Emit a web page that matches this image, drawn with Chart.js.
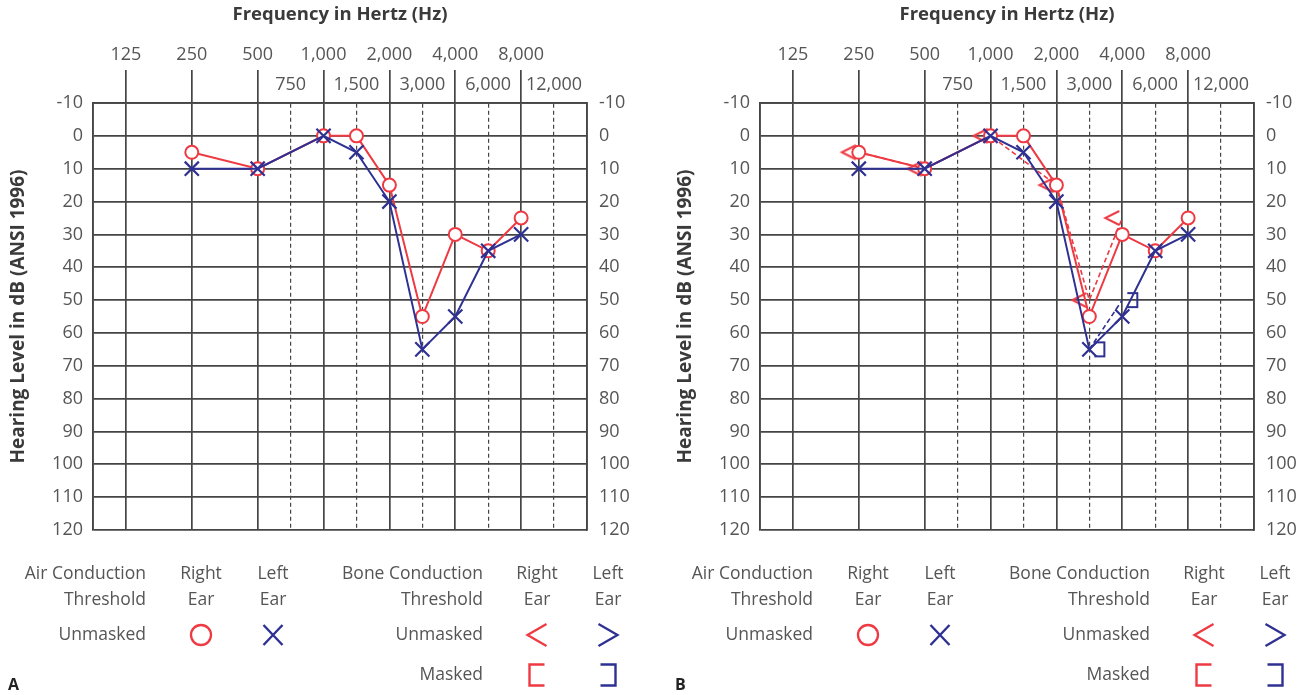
<!DOCTYPE html>
<html lang="en">

<head>
    <meta charset="UTF-8">
    <title>Audiograms A and B</title>
    <style>
        body { margin: 0; background: #fff; width: 1300px; height: 695px; overflow: hidden; position: relative; }
        .panel { position: absolute; top: 0; width: 633px; height: 695px; }
        #panel-a { left: 0; }
        #panel-b { left: 667px; }
    </style>
</head>

<body>
    <div class="panel" id="panel-a"><canvas id="chart-a" width="633" height="695"></canvas></div>
    <div class="panel" id="panel-b"><canvas id="chart-b" width="633" height="695"></canvas></div>

    <script src="https://cdn.jsdelivr.net/npm/chart.js"></script>
    <script>
        // audiogram columns, '' = empty slot / frame edge
        const columns = ['', '125', '', '250', '', '500', '750', '1,000', '1,500', '2,000', '3,000', '4,000', '6,000', '8,000', '12,000', ''];
        const halfOctaves = ['750', '1,500', '3,000', '6,000', '12,000'];

        // air conduction, both panels
        const airFreqs = ['250', '500', '1,000', '1,500', '2,000', '3,000', '4,000', '6,000', '8,000'];
        const rightAir = [5, 10, 0, 0, 15, 55, 30, 35, 25];
        const leftAir = [10, 10, 0, 5, 20, 65, 55, 35, 30];

        // bone conduction, panel B only
        const rightBoneFreqs = ['250', '500', '1,000', '2,000', '3,000', '4,000'];
        const rightBone = [5, 10, 0, 15, 50, 25];
        const leftBoneMaskedFreqs = ['3,000', '4,000'];
        const leftBoneMasked = [65, 50];

        const RED = '#ee3a43';
        const BLUE = '#2e3192';
        const GRID = '#454545';
        const TEXT = '#555555';
        const TITLE = '#3a3a3a';
        const FONT = '"Open Sans", "Noto Sans", sans-serif';

        Chart.defaults.font.family = FONT;

        function points(freqs, levels) {
            return freqs.map((f, i) => ({ x: f, y: levels[i] }));
        }

        function drawGlyph(g, kind, x, y, w, h, color, lw) {
            const l = x - w / 2, r = x + w / 2, t = y - h / 2, b = y + h / 2;
            g.save();
            g.strokeStyle = color;
            g.lineWidth = lw;
            g.beginPath();
            if (kind === 'o') g.arc(x, y, w / 2, 0, Math.PI * 2);
            if (kind === 'x') { g.moveTo(l, t); g.lineTo(r, b); g.moveTo(r, t); g.lineTo(l, b); }
            if (kind === '<') { g.moveTo(r, t); g.lineTo(l, y); g.lineTo(r, b); }
            if (kind === '>') { g.moveTo(l, t); g.lineTo(r, y); g.lineTo(l, b); }
            if (kind === '[') { g.moveTo(r, t); g.lineTo(l, t); g.lineTo(l, b); g.lineTo(r, b); }
            if (kind === ']') { g.moveTo(l, t); g.lineTo(r, t); g.lineTo(r, b); g.lineTo(l, b); }
            g.stroke();
            g.restore();
        }

        // bone markers sit beside the frequency line, not on it
        function markerImage(kind, color) {
            const c = document.createElement('canvas');
            c.width = 48;
            c.height = 24;
            const g = c.getContext('2d');
            if (kind === '<') drawGlyph(g, '<', 14, 12, 14, 14, color, 2);
            else drawGlyph(g, ']', 34, 12, 10, 14, color, 2);
            return c;
        }

        const legendPlugin = {
            id: 'audioLegend',
            afterDraw(chart, args, opts) {
                const g = chart.ctx;
                const c = opts.cols;
                const rows = [574, 600, 635, 675];
                const put = (s, x, y, align) => { g.textAlign = align; g.fillText(s, x, y); };
                g.save();
                g.font = '17.5px ' + FONT;
                g.fillStyle = TEXT;
                g.textBaseline = 'middle';
                put('Air Conduction', c[0], rows[0], 'right');
                put('Threshold', c[0], rows[1], 'right');
                put('Unmasked', c[0], rows[2], 'right');
                put('Right', c[1], rows[0], 'center');
                put('Ear', c[1], rows[1], 'center');
                put('Left', c[2], rows[0], 'center');
                put('Ear', c[2], rows[1], 'center');
                put('Bone Conduction', c[3], rows[0], 'right');
                put('Threshold', c[3], rows[1], 'right');
                put('Unmasked', c[3], rows[2], 'right');
                put('Masked', c[3], rows[3], 'right');
                put('Right', c[4], rows[0], 'center');
                put('Ear', c[4], rows[1], 'center');
                put('Left', c[5], rows[0], 'center');
                put('Ear', c[5], rows[1], 'center');
                drawGlyph(g, 'o', c[1], rows[2], 20, 20, RED, 2.3);
                drawGlyph(g, 'x', c[2], rows[2], 19, 20, BLUE, 2.4);
                drawGlyph(g, '<', c[4], rows[2], 19, 22, RED, 2.3);
                drawGlyph(g, '>', c[5], rows[2], 19, 22, BLUE, 2.3);
                drawGlyph(g, '[', c[4], rows[3], 15, 21, RED, 2.4);
                drawGlyph(g, ']', c[5], rows[3], 15, 21, BLUE, 2.4);
                g.font = 'bold 16px ' + FONT;
                g.fillStyle = '#222';
                g.textAlign = 'left';
                g.fillText(opts.letter, 8, 685);
                g.restore();
            }
        };

        const isMinor = i => halfOctaves.includes(columns[i]);
        const isMajor = i => columns[i] !== '' && !isMinor(i);
        const isEmptySlot = i => columns[i] === '' && i !== 0 && i !== columns.length - 1;

        function makeAudiogram(canvasId, letter, withBone) {
            const datasets = [{
                label: 'Left ear air',
                data: points(airFreqs, leftAir),
                order: 1,
                borderColor: BLUE,
                borderWidth: 2,
                pointStyle: 'crossRot',
                pointRadius: 10,
                pointBorderWidth: 2.2,
                pointBorderColor: BLUE,
                pointBackgroundColor: BLUE
            }, {
                label: 'Right ear air',
                data: points(airFreqs, rightAir),
                order: 2,
                borderColor: RED,
                borderWidth: 2,
                pointStyle: 'circle',
                pointRadius: 6.5,
                pointBorderWidth: 2,
                pointBorderColor: RED,
                pointBackgroundColor: '#fff'
            }];

            if (withBone) {
                datasets.push({
                    label: 'Right ear bone',
                    data: points(rightBoneFreqs, rightBone),
                    order: 3,
                    borderColor: RED,
                    borderWidth: 1.6,
                    borderDash: [5, 3],
                    pointStyle: markerImage('<', RED),
                    pointRadius: 5
                });
                datasets.push({
                    label: 'Left ear bone masked',
                    data: points(leftBoneMaskedFreqs, leftBoneMasked),
                    order: 0,
                    borderColor: BLUE,
                    borderWidth: 1.6,
                    borderDash: [5, 3],
                    pointStyle: markerImage(']', BLUE),
                    pointRadius: 5
                });
            }

            const yTicks = { stepSize: 10, color: TEXT, font: { size: 18 } };

            return new Chart(document.getElementById(canvasId), {
                type: 'line',
                data: { datasets: datasets },
                options: {
                    responsive: false,
                    animation: false,
                    events: [],
                    layout: { padding: { left: 0, right: 0, top: 0, bottom: 165 } },
                    elements: { line: { tension: 0 } },
                    plugins: {
                        legend: { display: false },
                        tooltip: { enabled: false },
                        audioLegend: { letter: letter, cols: [146, 201, 273, 483, 537, 608] }
                    },
                    scales: {
                        x: {
                            type: 'category',
                            labels: columns,
                            position: 'top',
                            offset: false,
                            grid: {
                                color: c => isEmptySlot(c.index) ? 'transparent' : GRID,
                                lineWidth: c => isMinor(c.index) ? 1.2 : 1.7,
                                tickLength: 33,
                                tickWidth: 1.7,
                                tickColor: c => isMajor(c.index) ? GRID : 'transparent'
                            },
                            // in v4 the grid line dash is read from border.dash per tick
                            border: {
                                color: GRID,
                                width: 1.7,
                                dash: c => isMinor(c.index) ? [4, 3] : []
                            },
                            ticks: {
                                autoSkip: false,
                                maxRotation: 0,
                                padding: -30,
                                color: TEXT,
                                font: { size: 18, lineHeight: '30px' },
                                callback: (value, index) => isMinor(index) ? ['', columns[index]] : [columns[index], '']
                            },
                            title: {
                                display: true,
                                text: 'Frequency in Hertz (Hz)',
                                color: TITLE,
                                font: { size: 18.5, weight: 'bold' },
                                padding: { top: 4, bottom: 0 }
                            },
                            afterFit: s => { s.height = 103; }
                        },
                        y: {
                            position: 'left',
                            reverse: true,
                            min: -10,
                            max: 120,
                            ticks: Object.assign({ padding: 10 }, yTicks),
                            grid: { color: GRID, lineWidth: 1.7, drawTicks: false },
                            border: { color: GRID, width: 1.7 },
                            title: {
                                display: true,
                                text: 'Hearing Level in dB (ANSI 1996)',
                                color: TITLE,
                                font: { size: 19, weight: 'bold' },
                                padding: { top: 7, bottom: 0 }
                            },
                            afterFit: s => { s.width = 93; }
                        },
                        y2: {
                            position: 'right',
                            reverse: true,
                            min: -10,
                            max: 120,
                            ticks: Object.assign({ padding: 12 }, yTicks),
                            grid: { drawOnChartArea: false, drawTicks: false },
                            border: { color: GRID, width: 1.7 },
                            afterFit: s => { s.width = 46; }
                        }
                    }
                },
                plugins: [legendPlugin]
            });
        }

        makeAudiogram('chart-a', 'A', false);
        makeAudiogram('chart-b', 'B', true);
    </script>
</body>

</html>
